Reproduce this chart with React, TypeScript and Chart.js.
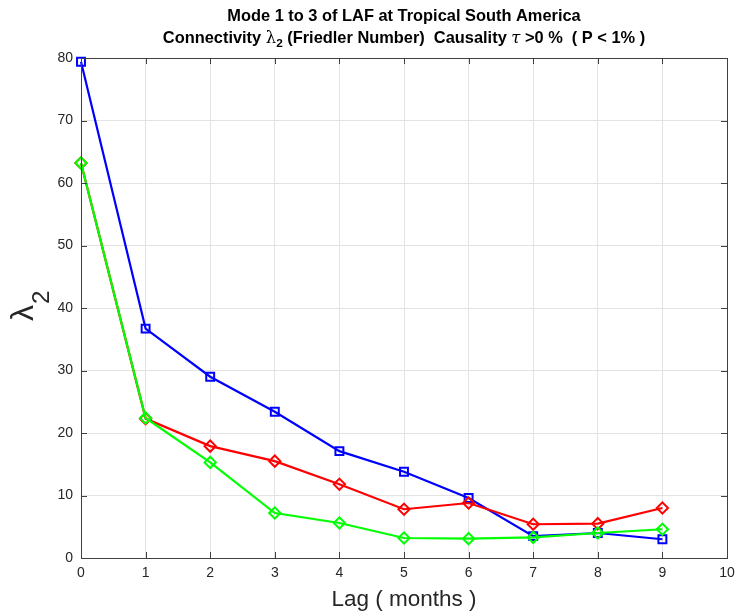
import React, { useEffect, useRef } from "react";
import { Chart, registerables } from "chart.js";

Chart.register(...registerables);

const lags = [0, 1, 2, 3, 4, 5, 6, 7, 8, 9];
const blueSeries = [79.4, 36.7, 29.0, 23.4, 17.1, 13.8, 9.6, 3.5, 4.0, 3.0];
const redSeries = [63.2, 22.3, 17.9, 15.5, 11.8, 7.8, 8.8, 5.4, 5.5, 8.0];
const greenSeries = [63.2, 22.4, 15.3, 7.2, 5.6, 3.2, 3.1, 3.3, 4.0, 4.6];
const xTicks = [0, 1, 2, 3, 4, 5, 6, 7, 8, 9, 10];
const yTicks = [0, 10, 20, 30, 40, 50, 60, 70, 80];
const titleLine1 = "Mode 1 to 3 of LAF at Tropical South America";
const xLabel = "Lag ( months )";

const FONT = '"Liberation Sans", Arial, sans-serif';
const AXIS = "#262626";
const TFS = 16.4;

const decorPlugin = {
  id: "decor",
  afterDraw(chart: any) {
    const ctx = chart.ctx;
    const ca = chart.chartArea;
    const xs = chart.scales.x;
    const ys = chart.scales.y;
    ctx.save();
    ctx.strokeStyle = "#404040";
    ctx.lineWidth = 1;
    ctx.strokeRect(Math.round(ca.left) + 0.5, Math.round(ca.top) + 0.5, Math.round(ca.right - ca.left), Math.round(ca.bottom - ca.top));
    const tl = 6;
    ctx.beginPath();
    xTicks.forEach((v) => {
      const px = Math.round(xs.getPixelForValue(v)) + 0.5;
      ctx.moveTo(px, ca.bottom);
      ctx.lineTo(px, ca.bottom - tl);
      ctx.moveTo(px, ca.top);
      ctx.lineTo(px, ca.top + tl);
    });
    yTicks.forEach((v) => {
      const py = Math.round(ys.getPixelForValue(v)) + 0.5;
      ctx.moveTo(ca.left, py);
      ctx.lineTo(ca.left + tl, py);
      ctx.moveTo(ca.right, py);
      ctx.lineTo(ca.right - tl, py);
    });
    ctx.stroke();
    ctx.restore();
  },
  afterDatasetsDraw(chart: any) {
    const ctx = chart.ctx;
    const ca = chart.chartArea;
    ctx.save();
    const cx = (ca.left + ca.right) / 2;
    ctx.fillStyle = "#000";
    ctx.textBaseline = "alphabetic";
    ctx.font = `bold ${TFS}px ${FONT}`;
    ctx.textAlign = "center";
    ctx.fillText(titleLine1, cx, 21);

    const segs = [
      { t: "Connectivity ", f: `bold ${TFS}px ${FONT}`, dy: 0 },
      { t: "λ", f: `${TFS}px "DejaVu Serif", serif`, dy: 0 },
      { t: "2", f: `bold ${TFS * 0.72}px ${FONT}`, dy: 4 },
      { t: " (Friedler Number)  Causality ", f: `bold ${TFS}px ${FONT}`, dy: 0 },
      { t: "τ", f: `italic ${TFS}px "DejaVu Serif", serif`, dy: 0 },
      { t: " >0 %  ( P < 1% )", f: `bold ${TFS}px ${FONT}`, dy: 0 },
    ];
    let total = 0;
    segs.forEach((s) => {
      ctx.font = s.f;
      total += ctx.measureText(s.t).width;
    });
    let x = cx - total / 2;
    ctx.textAlign = "left";
    segs.forEach((s) => {
      ctx.font = s.f;
      ctx.fillText(s.t, x, 43 + s.dy);
      x += ctx.measureText(s.t).width;
    });

    ctx.fillStyle = AXIS;
    ctx.save();
    ctx.translate(33, 321);
    ctx.rotate(-Math.PI / 2);
    ctx.font = `32px ${FONT}`;
    ctx.fillText("λ", 0, 0);
    ctx.restore();
    ctx.save();
    ctx.translate(49, 304);
    ctx.rotate(-Math.PI / 2);
    ctx.font = `24px ${FONT}`;
    ctx.fillText("2", 0, 0);
    ctx.restore();
    ctx.restore();
  },
};

export default function App() {
  const ref = useRef<HTMLCanvasElement>(null);
  useEffect(() => {
    document.body.style.margin = "0";
    const mk = (data: number[], color: string, style: string) => ({
      data: lags.map((l, i) => ({ x: l, y: data[i] })),
      borderColor: color,
      backgroundColor: color,
      borderWidth: 2.2,
      pointStyle: style,
      pointRadius: 5.6,
      pointBorderWidth: 2,
      pointBackgroundColor: "rgba(0,0,0,0)",
      pointBorderColor: color,
      tension: 0,
      clip: false,
    });
    const chart = new Chart(ref.current!, {
      type: "line",
      data: {
        datasets: [
          { ...mk(greenSeries, "#00ff00", "rectRot"), order: 1 },
          { ...mk(redSeries, "#ff0000", "rectRot"), order: 2 },
          { ...mk(blueSeries, "#0000ff", "rect"), order: 3 },
        ],
      },
      options: {
        animation: false,
        responsive: false,
        devicePixelRatio: 1,
        layout: { padding: { left: 0, right: 9, top: 58, bottom: 0 } },
        plugins: { legend: { display: false }, tooltip: { enabled: false }, title: { display: false } },
        scales: {
          x: {
            type: "linear",
            min: 0,
            max: 10,
            afterBuildTicks: (s: any) => {
              s.ticks = xTicks.map((v) => ({ value: v }));
            },
            afterFit: (s: any) => {
              s.height = 58;
              s.paddingLeft = 0;
              s.paddingRight = 0;
            },
            grid: { color: "#e3e3e3", drawTicks: false },
            border: { display: false },
            ticks: { color: AXIS, font: { family: FONT, size: 14 }, padding: 7, maxRotation: 0 },
            title: { display: true, text: xLabel, color: AXIS, font: { family: FONT, size: 22.5 }, padding: { top: 0, bottom: 3 } },
          },
          y: {
            type: "linear",
            min: 0,
            max: 80,
            afterBuildTicks: (s: any) => {
              s.ticks = yTicks.map((v) => ({ value: v }));
            },
            afterFit: (s: any) => {
              s.width = 81;
              s.paddingTop = 0;
              s.paddingBottom = 0;
            },
            grid: { color: "#e3e3e3", drawTicks: false },
            border: { display: false },
            ticks: { color: AXIS, font: { family: FONT, size: 14 }, padding: 8 },
          },
        },
      },
      plugins: [decorPlugin],
    } as any);
    return () => chart.destroy();
  }, []);
  return (
    <div style={{ position: "absolute", left: 0, top: 0, width: 736, height: 616 }}>
      <canvas ref={ref} width={736} height={616} style={{ width: 736, height: 616 }} />
    </div>
  );
}
